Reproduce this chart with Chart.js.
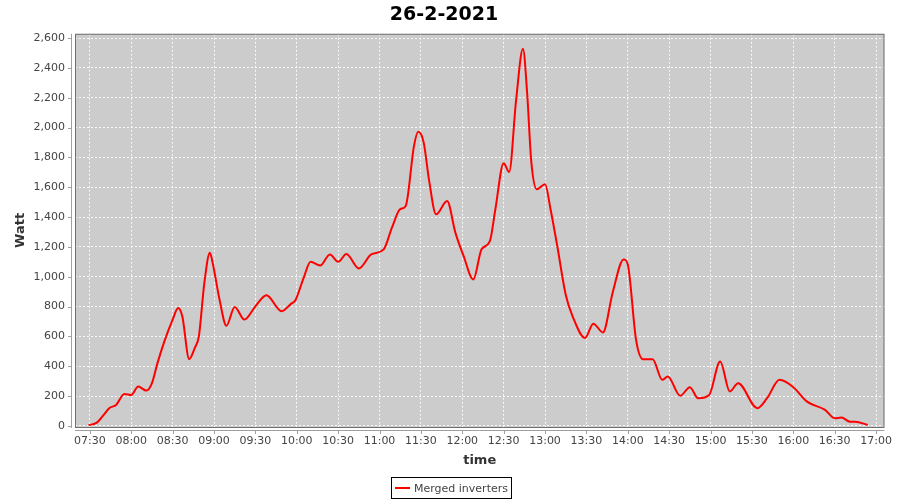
<!DOCTYPE html>
<html>
<head>
<meta charset="utf-8">
<script src="https://cdn.jsdelivr.net/npm/chart.js@4"></script>
<style>
    body { margin: 0; background: #fff; }
    #wrap { position: relative; width: 900px; height: 500px; }
    #legend {
        position: absolute; left: 391px; top: 477px; height: 20px; padding-right: 3px;
        border: 1px solid #000; font: 11px "DejaVu Sans", sans-serif; color: #444;
        display: flex; align-items: center; white-space: nowrap;
    }
    #legend .swatch { width: 15px; height: 2px; background: #f00; margin: 0 4px 0 3px; }
</style>
</head>
<body>
<div id="wrap">
    <canvas id="powerChart"></canvas>
    <div id="legend"><span class="swatch"></span>Merged inverters</div>
</div>
<script>
// Readings (time of day, watt)
const times = ['07:29', '07:35', '07:40', '07:44', '07:49', '07:55', '08:00', '08:05', '08:11', '08:15',
    '08:19', '08:24', '08:30', '08:34', '08:37', '08:42', '08:46', '08:49', '08:53', '08:57',
    '08:59', '09:04', '09:09', '09:15', '09:22', '09:30', '09:38', '09:49', '09:56', '09:59',
    '10:05', '10:10', '10:17', '10:24', '10:30', '10:36', '10:45', '10:54', '11:03', '11:09',
    '11:15', '11:19', '11:25', '11:28', '11:32', '11:36', '11:41', '11:49', '11:55', '12:01',
    '12:08', '12:14', '12:20', '12:24', '12:30', '12:34', '12:39', '12:44', '12:47', '12:50',
    '12:54', '13:00', '13:04', '13:09', '13:15', '13:20', '13:29', '13:35', '13:42', '13:49',
    '13:57', '14:00', '14:06', '14:11', '14:18', '14:25', '14:29', '14:38', '14:45', '14:51',
    '14:59', '15:07', '15:14', '15:20', '15:34', '15:41', '15:50', '16:00', '16:10', '16:23',
    '16:30', '16:35', '16:41', '16:45', '16:54'];
const watts = [5, 22, 74, 119, 141, 215, 208, 264, 237, 287,
    421, 567, 713, 791, 735, 448, 522, 600, 960, 1161,
    1094, 847, 672, 798, 713, 802, 876, 769, 820, 843,
    993, 1101, 1076, 1150, 1100, 1152, 1056, 1150, 1184, 1329,
    1453, 1475, 1878, 1972, 1901, 1643, 1419, 1508, 1296, 1139,
    982, 1184, 1239, 1453, 1762, 1703, 2181, 2529, 2237, 1777,
    1587, 1621, 1453, 1200, 880, 735, 590, 686, 627, 892,
    1116, 1083, 578, 448, 448, 309, 331, 202, 260, 186,
    208, 432, 231, 287, 119, 186, 309, 260, 163, 108,
    52, 56, 29, 29, 7];

// Axis ticks
const timeTicks = ['07:30', '08:00', '08:30', '09:00', '09:30', '10:00', '10:30', '11:00', '11:30', '12:00',
    '12:30', '13:00', '13:30', '14:00', '14:30', '15:00', '15:30', '16:00', '16:30', '17:00'];
const wattTicks = [0, 200, 400, 600, 800, 1000, 1200, 1400, 1600, 1800, 2000, 2200, 2400, 2600];

const toMinutes = t => {
    const [h, m] = t.split(':').map(Number);
    return h * 60 + m;
};
const toLabel = v => {
    const h = Math.floor(v / 60);
    const m = Math.round(v % 60);
    return String(h).padStart(2, '0') + ':' + String(m).padStart(2, '0');
};

// Plot background, frame and the detached axis lines
const plotFrame = {
    id: 'plotFrame',
    beforeDraw(chart) {
        const { ctx, chartArea: a } = chart;
        ctx.save();
        ctx.fillStyle = '#cccccc';
        ctx.fillRect(a.left, a.top, a.right - a.left, a.bottom - a.top);
        ctx.restore();
    },
    afterDatasetsDraw(chart) {
        const { ctx, chartArea: a, scales } = chart;
        ctx.save();
        ctx.strokeStyle = '#707070';
        ctx.lineWidth = 1;
        ctx.strokeRect(a.left + 0.5, a.top + 0.5, a.right - a.left - 1, a.bottom - a.top);

        ctx.strokeStyle = '#a0a0a0';
        ctx.beginPath();
        ctx.moveTo(a.left - 3.5, a.top);
        ctx.lineTo(a.left - 3.5, a.bottom + 1);
        ctx.moveTo(a.left, a.bottom + 3.5);
        ctx.lineTo(a.right, a.bottom + 3.5);
        scales.y.ticks.forEach(t => {
            const y = Math.round(scales.y.getPixelForValue(t.value)) + 0.5;
            ctx.moveTo(a.left - 7, y);
            ctx.lineTo(a.left - 3.5, y);
        });
        scales.x.ticks.forEach(t => {
            const x = Math.round(scales.x.getPixelForValue(t.value)) + 0.5;
            ctx.moveTo(x, a.bottom + 3.5);
            ctx.lineTo(x, a.bottom + 7);
        });
        ctx.stroke();
        ctx.restore();
    }
};

const gridStyle = {
    color: 'rgba(255,255,255,0.85)',
    lineWidth: 1,
    drawTicks: false
};
const dashedBorder = { display: false, dash: [2, 2] };

new Chart(document.getElementById('powerChart'), {
    type: 'line',
    data: {
        datasets: [{
            label: 'Merged inverters',
            data: times.map((t, i) => ({ x: toMinutes(t), y: watts[i] })),
            borderColor: '#ff0000',
            borderWidth: 2,
            pointRadius: 0,
            cubicInterpolationMode: 'monotone',
            fill: false
        }]
    },
    options: {
        responsive: true,
        maintainAspectRatio: false,
        animation: false,
        layout: { padding: { left: 0, right: 12, top: 0, bottom: 32 } },
        plugins: {
            legend: { display: false },
            tooltip: { enabled: false },
            title: {
                display: true,
                text: '26-2-2021',
                color: '#000',
                font: { family: 'DejaVu Sans', size: 19, weight: 'bold' },
                padding: { top: 4, bottom: 7 }
            }
        },
        scales: {
            x: {
                type: 'linear',
                min: 439.2,
                max: 1026.1,
                border: dashedBorder,
                grid: gridStyle,
                afterBuildTicks: s => { s.ticks = timeTicks.map(t => ({ value: toMinutes(t) })); },
                ticks: {
                    autoSkip: false,
                    maxRotation: 0,
                    padding: 8,
                    color: '#444',
                    font: { family: 'DejaVu Sans', size: 11 },
                    callback: v => toLabel(v)
                },
                title: {
                    display: true,
                    text: 'time',
                    color: '#333',
                    font: { family: 'DejaVu Sans', size: 13, weight: 'bold' },
                    padding: 0
                },
                afterFit: s => { s.height = 41; }
            },
            y: {
                min: -7,
                max: 2629,
                border: dashedBorder,
                grid: gridStyle,
                afterBuildTicks: s => { s.ticks = wattTicks.map(v => ({ value: v })); },
                ticks: {
                    autoSkip: false,
                    padding: 10,
                    color: '#444',
                    font: { family: 'DejaVu Sans', size: 11 },
                    callback: v => v.toLocaleString('en-US')
                },
                title: {
                    display: true,
                    text: 'Watt',
                    color: '#333',
                    font: { family: 'DejaVu Sans', size: 13, weight: 'bold' },
                    padding: { top: 13, bottom: 0 }
                },
                afterFit: s => { s.width = 75; }
            }
        }
    },
    plugins: [plotFrame]
});
</script>
</body>
</html>
